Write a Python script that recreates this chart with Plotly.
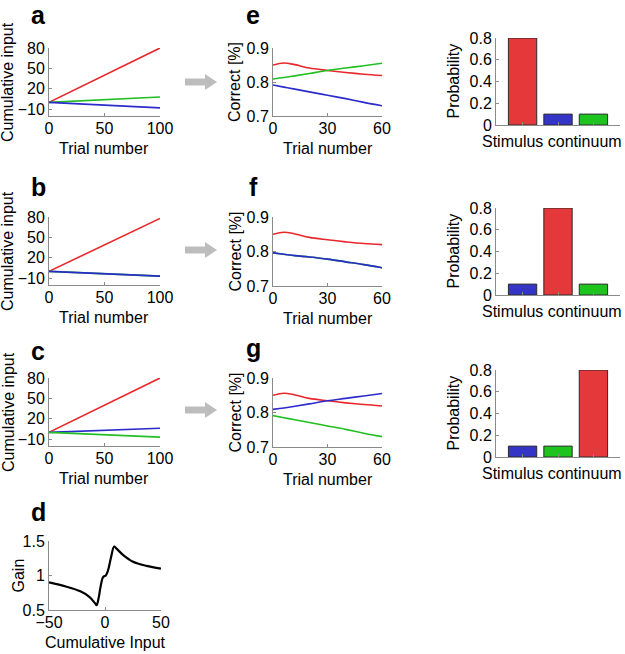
import plotly.graph_objects as go

W, H = 625, 654

RED = "#e8282c"
GREEN = "#22bf22"
BLUE = "#2b2bcc"
BAR_RED = "#e5383b"
BAR_BLUE = "#3434c6"
BAR_GREEN = "#1ec41e"
AX = "#8a8a8a"
FONT = "Liberation Sans, Arial, sans-serif"

# panels a-c: cumulative input over trials
trial = [0, 50, 100]
a_red = [0, 40, 80]
a_green = [0, 4, 8]
a_blue = [0, -4, -8]
b_red = [0, 39, 78]
b_green = [0, -3.5, -7]
b_blue = [0, -3.5, -7]
c_red = [0, 40, 80]
c_blue = [0, 3, 6]
c_green = [0, -3.5, -7]

# panels e-g: fraction correct over trials
trial_e = [0, 6, 12, 20, 30, 40, 50, 60]
e_red = [0.850, 0.856, 0.851, 0.841, 0.834, 0.828, 0.823, 0.819]
e_green = [0.809, 0.813, 0.818, 0.825, 0.834, 0.841, 0.848, 0.855]
e_blue = [0.791, 0.785, 0.779, 0.771, 0.761, 0.751, 0.740, 0.730]
f_red = [0.850, 0.856, 0.851, 0.841, 0.834, 0.828, 0.823, 0.820]
f_green = [0.796, 0.792, 0.788, 0.784, 0.778, 0.770, 0.762, 0.753]
f_blue = [0.796, 0.792, 0.788, 0.784, 0.778, 0.770, 0.762, 0.753]
g_red = [0.850, 0.856, 0.851, 0.841, 0.834, 0.828, 0.823, 0.819]
g_blue = [0.809, 0.813, 0.818, 0.825, 0.834, 0.841, 0.848, 0.855]
g_green = [0.791, 0.785, 0.779, 0.771, 0.761, 0.751, 0.740, 0.730]

# panel d: gain curve
gain_x = [-50, -35, -22, -14, -9, -7.5, -5.5, -3.7, -1.6, 0.7, 2.8, 5.2, 8.2, 10.3, 16, 25, 37, 50]
gain_y = [0.90, 0.84, 0.77, 0.69, 0.60, 0.57, 0.69, 0.86, 0.98, 1.00, 1.08, 1.25, 1.42, 1.39, 1.30, 1.20, 1.14, 1.10]

# stimulus probabilities
stim = [0, 1, 2]
prob_top = [0.8, 0.1, 0.1]
prob_mid = [0.1, 0.8, 0.1]
prob_bot = [0.1, 0.1, 0.8]
col_top = [BAR_RED, BAR_BLUE, BAR_GREEN]
col_mid = [BAR_BLUE, BAR_RED, BAR_GREEN]
col_bot = [BAR_BLUE, BAR_GREEN, BAR_RED]


def dom_x(x0, x1):
    return [x0 / W, x1 / W]


def dom_y(y0, y1):
    return [1 - y1 / H, 1 - y0 / H]


fig = go.Figure()


def add_line(n, x, y, color, width=1.6, shape="linear"):
    fig.add_trace(go.Scatter(x=x, y=y, mode="lines", line=dict(color=color, width=width, shape=shape),
                             xaxis="x%d" % n, yaxis="y%d" % n, showlegend=False, hoverinfo="skip"))


add_line(1, trial, a_red, RED)
add_line(1, trial, a_green, GREEN)
add_line(1, trial, a_blue, BLUE)
add_line(2, trial, b_red, RED)
add_line(2, trial, b_green, GREEN)
add_line(2, trial, b_blue, BLUE)
add_line(3, trial, c_red, RED)
add_line(3, trial, c_blue, BLUE)
add_line(3, trial, c_green, GREEN)
add_line(4, gain_x, gain_y, "black", width=2.2, shape="spline")
add_line(5, trial_e, e_red, RED, shape="spline")
add_line(5, trial_e, e_green, GREEN, shape="spline")
add_line(5, trial_e, e_blue, BLUE, shape="spline")
add_line(6, trial_e, f_red, RED, shape="spline")
add_line(6, trial_e, f_green, GREEN, shape="spline")
add_line(6, trial_e, f_blue, BLUE, shape="spline")
add_line(7, trial_e, g_red, RED, shape="spline")
add_line(7, trial_e, g_blue, BLUE, shape="spline")
add_line(7, trial_e, g_green, GREEN, shape="spline")

for n, probs, cols in [(8, prob_top, col_top), (9, prob_mid, col_mid), (10, prob_bot, col_bot)]:
    fig.add_trace(go.Bar(x=stim, y=probs, width=0.8, marker=dict(color=cols, line=dict(color="#2a2a2a", width=1)),
                         xaxis="x%d" % n, yaxis="y%d" % n, showlegend=False, hoverinfo="skip"))


def axis(**kw):
    base = dict(showline=True, linecolor=AX, linewidth=1, ticks="inside", ticklen=3, tickcolor=AX,
                showgrid=False, zeroline=False, tickfont=dict(size=16, color="black"), automargin=False)
    base.update(kw)
    return base


layout = {}
annotations = []


def label(text, x, y, angle=0, size=16, bold=False):
    annotations.append(dict(text="<b>%s</b>" % text if bold else text, x=x / W, y=1 - y / H,
                            xref="paper", yref="paper", showarrow=False, textangle=angle,
                            xanchor="center", yanchor="middle",
                            font=dict(size=size, color="black", family=FONT)))


# (n, x-pixels, y-pixels, x settings, y settings, x title, y title, y-title x position)
panels = [
    (1, (49, 160), (48, 116), dict(range=[0, 100], tickvals=[0, 50, 100]),
     dict(range=[-20, 80], tickvals=[-10, 20, 50, 80]), "Trial number", "Cumulative input", 8),
    (2, (49, 160), (217, 285), dict(range=[0, 100], tickvals=[0, 50, 100]),
     dict(range=[-20, 80], tickvals=[-10, 20, 50, 80]), "Trial number", "Cumulative input", 8),
    (3, (49, 160), (378, 446), dict(range=[0, 100], tickvals=[0, 50, 100]),
     dict(range=[-20, 80], tickvals=[-10, 20, 50, 80]), "Trial number", "Cumulative input", 8),
    (4, (49, 161), (541, 610), dict(range=[-50, 50], tickvals=[-50, 0, 50]),
     dict(range=[0.5, 1.5], tickvals=[0.5, 1, 1.5]), "Cumulative Input", "Gain", 18),
    (5, (273, 382), (48, 116), dict(range=[0, 60], tickvals=[0, 30, 60]),
     dict(range=[0.7, 0.9], tickvals=[0.7, 0.8, 0.9]), "Trial number", "Correct [%]", 235),
    (6, (273, 382), (217, 286), dict(range=[0, 60], tickvals=[0, 30, 60]),
     dict(range=[0.7, 0.9], tickvals=[0.7, 0.8, 0.9]), "Trial number", "Correct [%]", 235),
    (7, (273, 382), (378, 447), dict(range=[0, 60], tickvals=[0, 30, 60]),
     dict(range=[0.7, 0.9], tickvals=[0.7, 0.8, 0.9]), "Trial number", "Correct [%]", 235),
]
for n, y0y1 in [(8, (38, 125)), (9, (208, 295)), (10, (370, 457))]:
    panels.append((n, (496, 620), y0y1,
                   dict(range=[-0.75, 2.75], tickvals=[0, 1, 2], showticklabels=False),
                   dict(range=[0, 0.8], tickvals=[0, 0.2, 0.4, 0.6, 0.8]),
                   "Stimulus continuum", "Probability", 453))

for n, (x0, x1), (y0, y1), xs, ys, xt, yt, ytx in panels:
    layout["xaxis%d" % n] = axis(domain=dom_x(x0, x1), anchor="y%d" % n, ticklabelstandoff=-2, **xs)
    layout["yaxis%d" % n] = axis(domain=dom_y(y0, y1), anchor="x%d" % n, **ys)
    if n >= 8:
        label(xt, 552, y1 + 16)
    else:
        label(xt, (x0 + x1) / 2, y1 + 32)
    label(yt, ytx, (y0 + y1) / 2, angle=-90)

# panel letters
for t, x, y in [("a", 38, 15), ("b", 38, 187), ("c", 38, 351), ("d", 38, 512),
                ("e", 253, 15), ("f", 253, 187), ("g", 253, 348)]:
    label(t, x, y, size=25, bold=True)

# grey arrows between columns
shapes = []
for yc in [82, 250, 410]:
    pts = [(185, yc - 3.5), (205, yc - 3.5), (205, yc - 8), (217, yc), (205, yc + 8), (205, yc + 3.5), (185, yc + 3.5)]
    path = "M " + " L ".join("%.4f,%.4f" % (x / W, 1 - y / H) for x, y in pts) + " Z"
    shapes.append(dict(type="path", path=path, xref="paper", yref="paper",
                       fillcolor="#bdbdbd", line=dict(width=0)))

fig.update_layout(width=W, height=H, margin=dict(l=0, r=0, t=0, b=0),
                  plot_bgcolor="white", paper_bgcolor="white",
                  font=dict(family=FONT, size=16, color="black"),
                  annotations=annotations, shapes=shapes, **layout)

# drop the default page margin so the figure sits at the window's top-left corner
fig.write_html("out.html", config={"displayModeBar": False},
               post_script="document.body.style.margin='0';")
